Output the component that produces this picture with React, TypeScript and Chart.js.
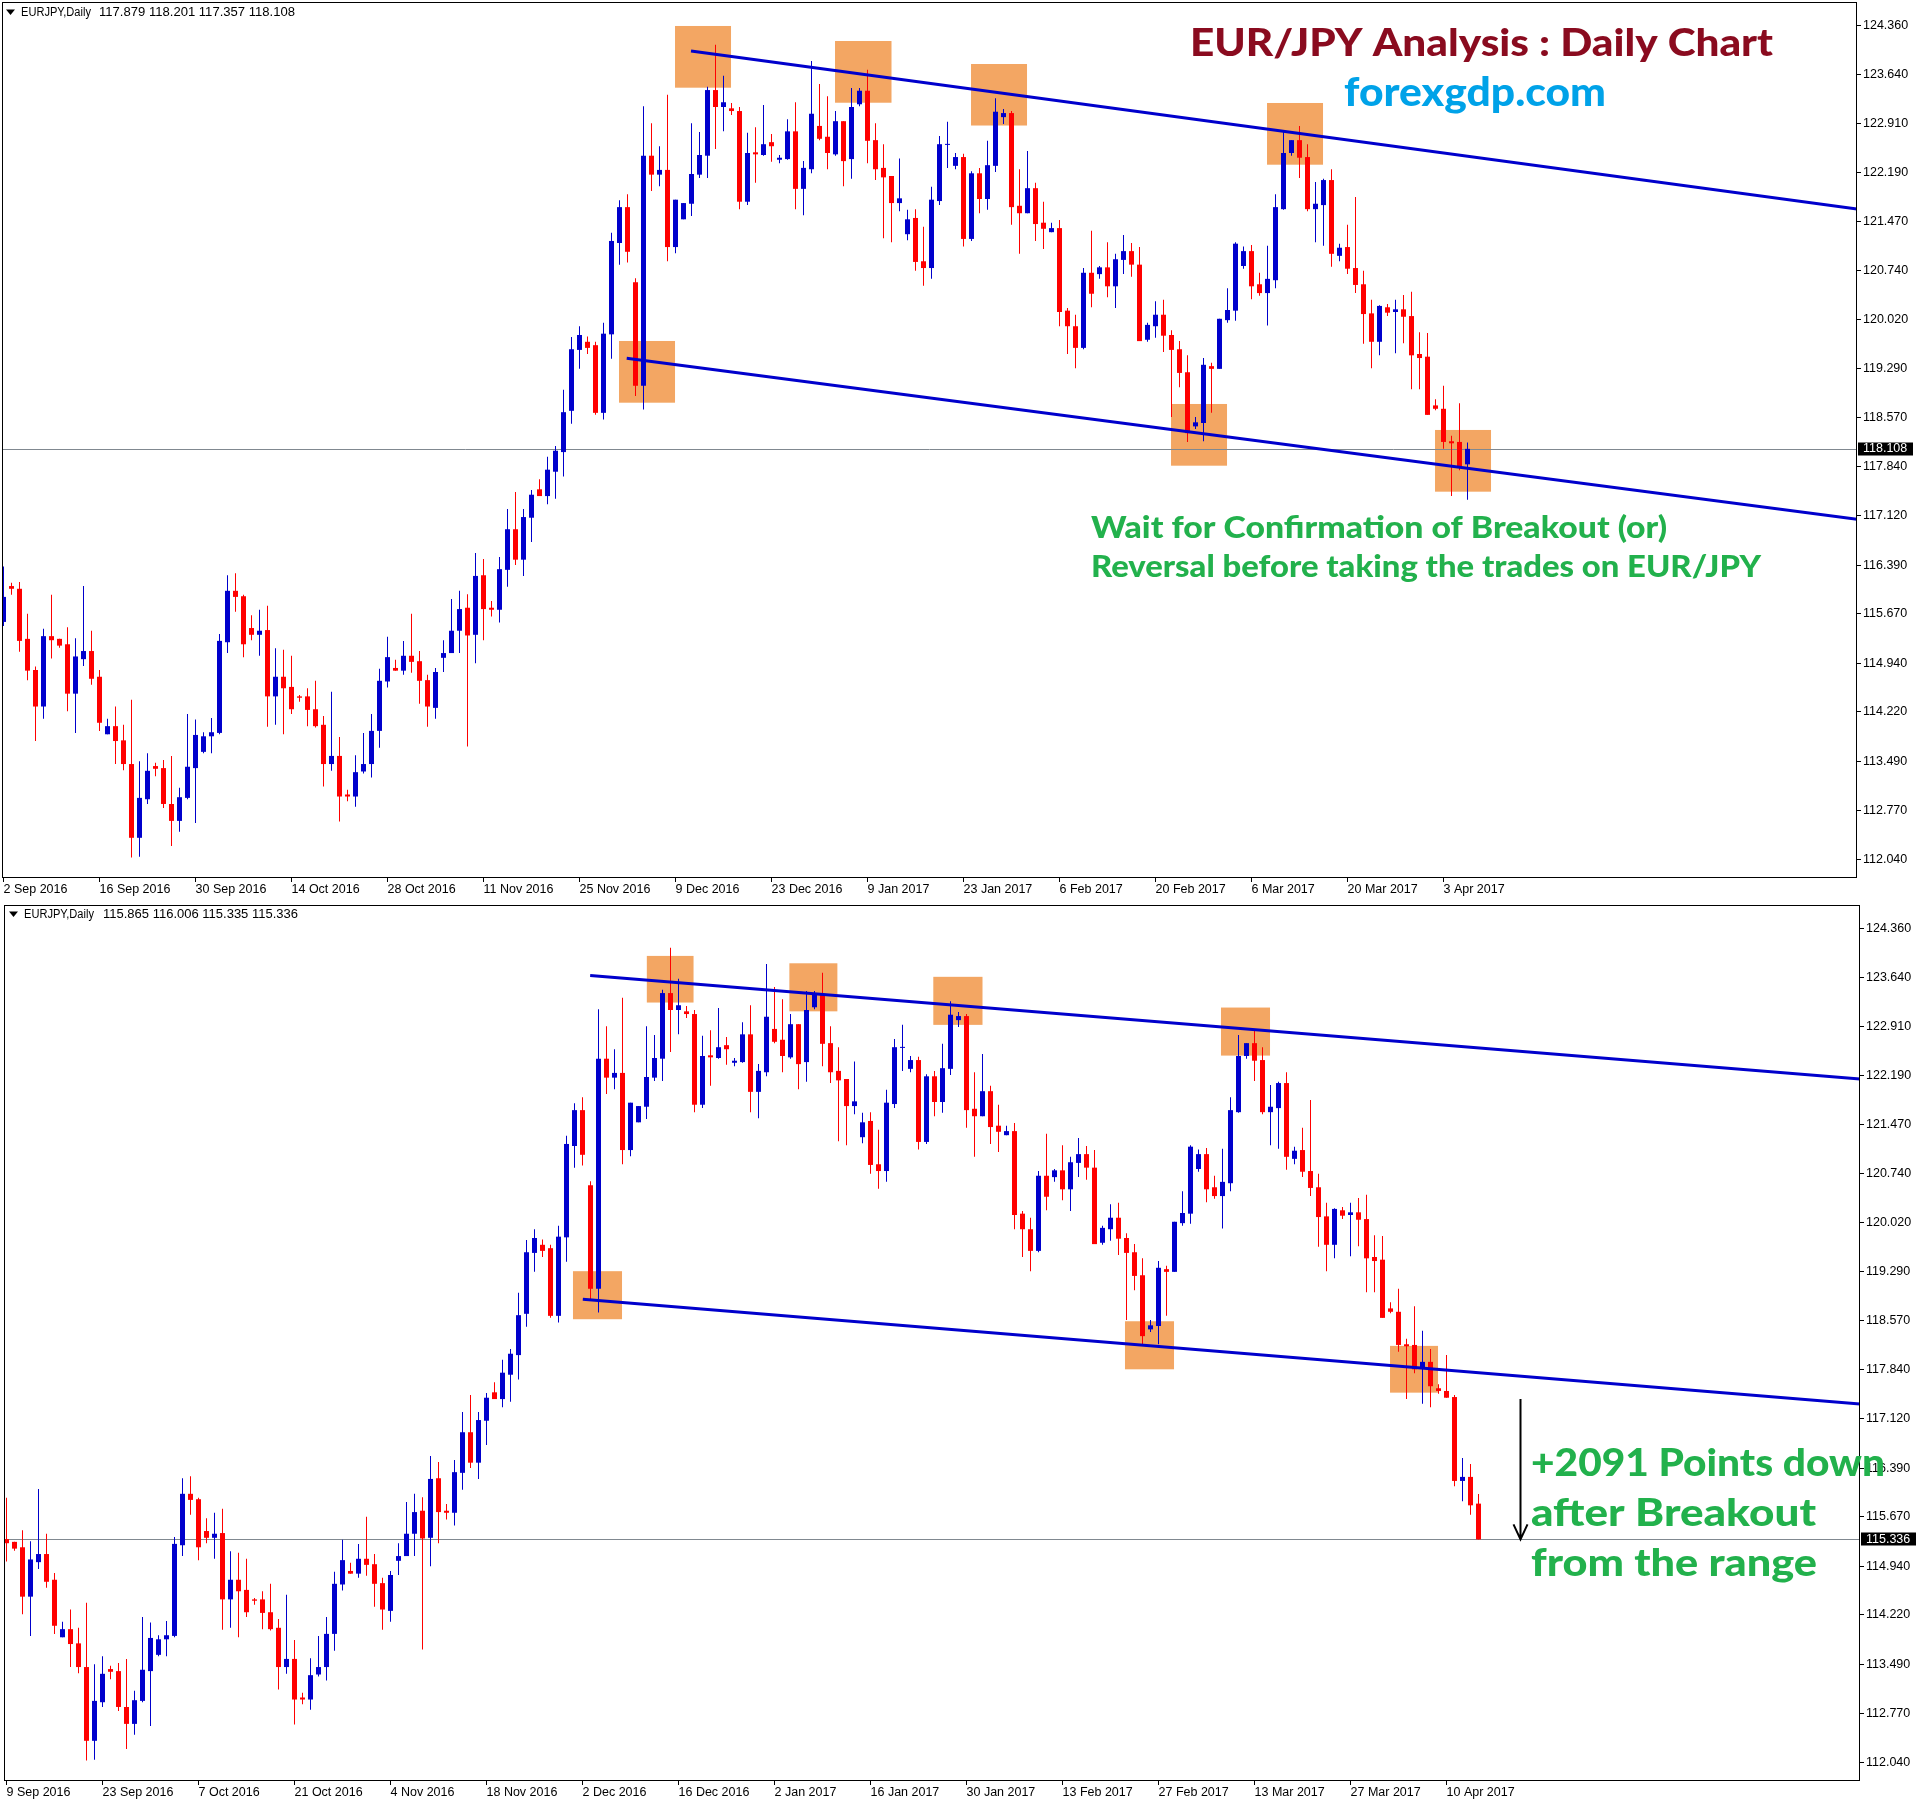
import React, { useEffect, useRef } from "react";
import { Chart, registerables } from "chart.js";

Chart.register(...registerables);

// ---------------- DATA ----------------
const SYMBOL = "EURJPY,Daily";

// daily bars (index 0 = 2 Sep 2016, 6 bars per week)
const opens = [
  115.55, 116.08, 116.04, 115.30, 114.84, 114.30, 115.34, 115.30, 115.22, 114.49,
  115.00, 115.12, 114.74, 113.89, 114.01, 113.80, 113.45, 112.36, 112.93, 113.42,
  113.39, 112.86, 112.61, 112.95, 113.39, 113.63, 113.86, 113.91, 115.25, 116.01,
  115.93, 115.46, 115.36, 115.43, 114.45, 114.74, 114.59, 114.45, 114.45, 114.26,
  114.03, 113.45, 113.57, 113.00, 112.97, 113.34, 113.45, 113.94, 114.67, 114.87,
  114.83, 115.05, 114.97, 114.69, 114.28, 115.02, 115.09, 115.42, 115.76, 115.36,
  116.24, 115.76, 115.73, 116.32, 116.92, 116.47, 117.09, 117.51, 117.41, 117.77,
  118.06, 118.67, 119.57, 119.69, 119.64, 118.64, 119.80, 121.15, 121.68, 120.57,
  119.04, 122.44, 122.16, 122.23, 121.09, 121.50, 121.73, 122.16, 122.44, 123.41,
  123.16, 123.14, 123.10, 121.76, 122.49, 122.45, 122.64, 122.38, 122.39, 122.80,
  121.95, 122.24, 122.88, 122.72, 122.46, 122.95, 122.39, 123.20, 123.40, 122.67,
  122.26, 122.14, 121.74, 121.28, 121.52, 120.88, 120.78, 121.77, 122.60, 122.29,
  122.42, 121.21, 122.18, 121.80, 122.29, 123.01, 123.07, 121.70, 121.59, 121.96,
  121.45, 121.31, 121.37, 120.15, 119.92, 119.60, 120.71, 120.69, 120.79, 120.51,
  120.90, 121.03, 120.83, 119.72, 119.92, 120.09, 119.79, 119.58, 119.24, 118.44,
  118.49, 119.33, 119.29, 120.01, 120.15, 120.81, 121.03, 120.54, 120.41, 120.60,
  121.65, 122.48, 122.67, 122.42, 121.65, 121.71, 122.08, 120.96, 121.09, 120.78,
  120.54, 120.11, 119.69, 120.20, 120.13, 120.17, 120.07, 119.51, 119.47, 118.75,
  118.70, 118.22, 118.21, 117.879, 117.96, 117.57, 117.53, 117.44, 116.20, 116.26,
  115.865,
];
const highs = [
  116.37, 116.13, 116.14, 115.67, 114.89, 115.45, 115.95, 115.30, 115.47, 115.31,
  116.08, 115.42, 114.84, 114.12, 114.30, 114.03, 114.40, 113.49, 113.61, 113.47,
  113.51, 113.57, 113.10, 114.19, 114.11, 113.92, 114.13, 115.37, 116.24, 116.27,
  115.95, 115.65, 115.73, 115.79, 115.16, 115.14, 115.05, 114.47, 114.57, 114.68,
  114.16, 114.52, 113.85, 113.07, 113.58, 113.91, 114.19, 114.86, 115.33, 114.99,
  115.27, 115.67, 115.12, 114.77, 114.87, 115.28, 115.89, 116.01, 115.96, 116.57,
  116.48, 115.86, 116.51, 117.22, 117.47, 117.22, 117.50, 117.66, 117.99, 118.15,
  118.98, 119.76, 119.92, 119.77, 119.69, 119.97, 121.30, 121.78, 121.87, 120.63,
  123.17, 122.92, 122.58, 123.34, 121.79, 121.74, 122.92, 122.79, 123.46, 124.08,
  123.62, 123.22, 123.16, 122.78, 122.86, 123.19, 122.76, 122.45, 122.98, 123.23,
  122.36, 123.84, 123.50, 123.32, 123.10, 122.95, 123.44, 123.44, 123.71, 122.92,
  122.61, 122.14, 122.40, 121.64, 121.65, 121.39, 121.98, 122.73, 122.94, 122.48,
  122.47, 122.21, 122.26, 122.66, 123.29, 123.13, 123.10, 122.24, 122.51, 122.04,
  121.76, 121.45, 121.49, 120.19, 120.09, 120.78, 121.33, 120.81, 121.16, 120.99,
  121.27, 121.15, 121.09, 119.97, 120.29, 120.31, 119.86, 119.70, 119.49, 118.58,
  119.45, 119.38, 120.03, 120.48, 121.16, 121.10, 121.12, 120.71, 121.11, 121.87,
  122.79, 122.67, 122.88, 122.61, 122.05, 122.10, 122.24, 121.14, 121.42, 121.83,
  120.74, 120.31, 120.23, 120.25, 120.31, 120.38, 120.43, 119.83, 119.82, 118.84,
  119.04, 118.30, 118.78, 118.42, 118.15, 117.63, 118.06, 117.47, 116.54, 116.45,
  116.006,
];
const lows = [
  115.49, 115.95, 115.11, 114.69, 113.79, 114.12, 115.01, 115.17, 114.23, 113.91,
  114.90, 114.62, 113.94, 113.89, 113.45, 113.36, 112.07, 112.08, 112.86, 113.27,
  112.80, 112.24, 112.45, 112.93, 112.58, 113.61, 113.61, 113.89, 115.09, 115.70,
  115.03, 115.28, 115.05, 114.00, 114.03, 113.89, 114.19, 114.37, 114.01, 113.99,
  113.12, 113.35, 112.60, 112.90, 112.82, 113.31, 113.25, 113.69, 114.58, 114.83,
  114.77, 114.80, 114.34, 114.00, 114.12, 114.81, 115.09, 115.09, 113.71, 114.94,
  115.28, 115.63, 115.54, 116.07, 116.39, 116.23, 116.73, 117.41, 117.29, 117.37,
  117.70, 118.48, 119.29, 119.51, 118.61, 118.54, 119.44, 120.83, 120.86, 118.89,
  118.69, 121.92, 121.99, 120.88, 121.00, 121.50, 121.55, 122.11, 122.11, 122.54,
  122.80, 123.04, 121.65, 121.71, 122.04, 122.44, 122.35, 122.33, 122.38, 121.65,
  121.56, 122.18, 122.67, 122.24, 122.44, 121.99, 122.10, 123.17, 122.33, 122.08,
  121.22, 121.16, 121.62, 121.19, 120.74, 120.52, 120.62, 121.71, 122.26, 122.24,
  121.10, 121.18, 121.59, 121.64, 122.20, 122.91, 121.42, 120.99, 121.59, 121.18,
  121.06, 121.31, 119.92, 119.51, 119.30, 119.58, 120.20, 120.62, 120.35, 120.19,
  120.69, 120.65, 119.70, 119.69, 119.75, 119.54, 118.58, 119.02, 118.21, 118.40,
  118.22, 118.64, 119.29, 119.97, 120.00, 120.77, 120.32, 120.37, 119.93, 120.48,
  121.64, 122.44, 122.11, 121.62, 121.16, 121.11, 120.80, 120.88, 120.69, 120.41,
  119.66, 119.30, 119.49, 120.07, 119.52, 119.67, 118.99, 118.99, 118.61, 118.68,
  118.11, 117.41, 117.79, 117.34, 117.29, 117.49, 117.43, 116.12, 115.90, 115.70,
  115.335,
];
const closes = [
  115.92, 116.04, 115.27, 114.83, 114.30, 115.34, 115.28, 115.20, 114.49, 115.04,
  115.12, 114.71, 114.06, 114.01, 113.79, 113.45, 112.36, 112.95, 113.35, 113.38,
  112.86, 112.61, 112.96, 113.41, 113.88, 113.86, 113.92, 115.27, 116.01, 115.92,
  115.22, 115.36, 115.42, 114.45, 114.74, 114.57, 114.26, 114.43, 114.25, 114.01,
  113.45, 113.57, 112.97, 112.97, 113.33, 113.45, 113.94, 114.68, 115.03, 114.83,
  115.05, 114.96, 114.68, 114.30, 114.81, 115.09, 115.42, 115.74, 115.35, 116.23,
  115.74, 115.73, 116.33, 116.92, 116.47, 117.10, 117.43, 117.41, 117.80, 118.08,
  118.65, 119.58, 119.79, 119.60, 118.64, 119.81, 121.18, 121.68, 121.02, 119.04,
  122.44, 122.16, 122.23, 121.09, 121.79, 121.74, 122.17, 122.45, 123.41, 123.16,
  123.23, 123.10, 121.76, 122.48, 122.46, 122.61, 122.58, 122.41, 122.80, 121.95,
  122.26, 123.06, 122.69, 122.48, 122.95, 122.36, 123.16, 123.40, 122.66, 122.24,
  122.12, 121.74, 121.81, 121.50, 120.87, 120.78, 121.79, 122.61, 122.61, 122.42,
  121.21, 122.18, 121.80, 122.30, 123.09, 123.07, 121.68, 121.59, 121.96, 121.43,
  121.36, 121.37, 120.13, 119.92, 119.60, 120.71, 120.40, 120.79, 120.51, 120.91,
  121.03, 120.83, 119.70, 119.94, 120.09, 119.78, 119.57, 119.23, 118.34, 118.50,
  119.35, 119.29, 120.03, 120.16, 121.14, 121.03, 120.51, 120.41, 120.62, 121.68,
  122.48, 122.67, 122.41, 121.65, 121.73, 122.08, 120.99, 121.08, 120.77, 120.53,
  120.10, 119.69, 120.22, 120.12, 120.17, 120.06, 119.49, 119.45, 118.61, 118.70,
  118.21, 118.19, 117.85, 117.96, 117.60, 117.53, 117.43, 116.20, 116.26, 115.84,
  115.336,
];

// the upper screenshot was taken while bar 183 was still open
const topLiveBar = { index: 183, open: 117.879, high: 118.201, low: 117.357, close: 118.108 };
const bottomLiveBar = { index: 190, open: 115.865, high: 116.006, low: 115.335, close: 115.336 };

const priceTicks = [
  124.36, 123.64, 122.91, 122.19, 121.47, 120.74, 120.02, 119.29, 118.57,
  117.84, 117.12, 116.39, 115.67, 114.94, 114.22, 113.49, 112.77, 112.04,
];

const topDateLabels = [
  "2 Sep 2016", "16 Sep 2016", "30 Sep 2016", "14 Oct 2016", "28 Oct 2016", "11 Nov 2016",
  "25 Nov 2016", "9 Dec 2016", "23 Dec 2016", "9 Jan 2017", "23 Jan 2017", "6 Feb 2017",
  "20 Feb 2017", "6 Mar 2017", "20 Mar 2017", "3 Apr 2017",
];
const bottomDateLabels = [
  "9 Sep 2016", "23 Sep 2016", "7 Oct 2016", "21 Oct 2016", "4 Nov 2016", "18 Nov 2016",
  "2 Dec 2016", "16 Dec 2016", "2 Jan 2017", "16 Jan 2017", "30 Jan 2017", "13 Feb 2017",
  "27 Feb 2017", "13 Mar 2017", "27 Mar 2017", "10 Apr 2017",
];
const DATE_STEP = 12;

// highlight boxes: [fromBar, toBar, highPrice, lowPrice]
const topBoxes = [
  [83.94, 90.94, 124.357, 123.445],
  [103.94, 111.0, 124.135, 123.223],
  [120.94, 127.94, 123.795, 122.886],
  [157.94, 164.94, 123.219, 122.307],
  [76.94, 83.94, 119.702, 118.79],
  [145.94, 152.94, 118.771, 117.859],
  [178.94, 185.94, 118.387, 117.475],
];
const bottomBoxes = [
  [86.04, 91.88, 123.959, 123.27],
  [103.86, 109.86, 123.85, 123.14],
  [121.85, 128.0, 123.65, 122.94],
  [157.81, 163.94, 123.196, 122.486],
  [76.81, 82.94, 119.3, 118.59],
  [145.81, 151.94, 118.56, 117.85],
  [178.94, 184.94, 118.196, 117.505],
];

// trend lines: [bar1, price1, bar2, price2]
const topLines = [
  [85.94, 123.987, 231.6875, 121.652],
  [77.9, 119.446, 231.6875, 117.067],
];
const bottomLines = [
  [78.96, 123.669, 237.6875, 122.14],
  [78.04, 118.884, 237.6875, 117.338],
];

const bottomArrow = { bar: 195.19, fromPrice: 117.41, toPrice: 115.336 };

// ---------------- STYLE ----------------
const BULL = "#0000CC";
const BEAR = "#FF0000";
const LINE_BLUE = "#0000CC";
const BOX_COLOR = "#F3A663";
const PRICE_LINE = "#808890";
const TICK_FONT = { family: '"Liberation Sans", Arial, sans-serif', size: 12.5 };
const TICK_FONT_CSS = '12.5px "Liberation Sans", Arial, sans-serif';
const ANNOT_FAMILY = '"Lato Black", Lato, "Open Sans", "DejaVu Sans", sans-serif';
const Y_MAX = 124.7114;
const Y_MIN = 111.766;

const topPanel = {
  top: 0,
  height: 903,
  padLeft: 2,
  plotRight: 1857,
  xMin: -0.1875,
  xMax: 231.6875,
  lastIndex: 183,
  live: topLiveBar,
  dateLabels: topDateLabels,
  dateStart: 0,
  boxes: topBoxes,
  lines: topLines,
  header: { tri: 6, sym: 21, symW: 70, nums: 99, numsW: 196, y: 12.5 },
  arrow: null,
  annotations: [
    { text: "EUR/JPY Analysis : Daily Chart", x: 1190, y: 56, w: 583, size: 37, color: "#8A0B1F" },
    { text: "forexgdp.com", x: 1344, y: 106, w: 262, size: 40, color: "#00A2E8" },
    { text: "Wait for Confirmation of Breakout (or)", x: 1091, y: 538, w: 576, size: 30, color: "#22B14C" },
    { text: "Reversal before taking the trades on EUR/JPY", x: 1091, y: 577, w: 670, size: 30, color: "#22B14C" },
  ],
};
const bottomPanel = {
  top: 903,
  height: 909,
  padLeft: 4,
  plotRight: 1860,
  xMin: 5.6875,
  xMax: 237.6875,
  lastIndex: 190,
  live: bottomLiveBar,
  dateLabels: bottomDateLabels,
  dateStart: 6,
  boxes: bottomBoxes,
  lines: bottomLines,
  header: { tri: 9, sym: 24, symW: 70, nums: 103, numsW: 195, y: 11.5 },
  arrow: bottomArrow,
  annotations: [
    { text: "+2091 Points down", x: 1531, y: 573, w: 354, size: 38, color: "#22B14C" },
    { text: "after Breakout", x: 1531, y: 623, w: 285, size: 38, color: "#22B14C" },
    { text: "from the range", x: 1531, y: 673, w: 286, size: 38, color: "#22B14C" },
  ],
};

function fmt(v: number) {
  return Number(v).toFixed(3);
}

function fitText(ctx: CanvasRenderingContext2D, text: string, x: number, y: number, width: number) {
  const w = ctx.measureText(text).width;
  ctx.save();
  ctx.translate(x, y);
  ctx.scale(width / w, 1);
  ctx.fillText(text, 0, 0);
  ctx.restore();
}

function makeDecorPlugin(p: any) {
  return {
    id: "mt4decor",
    beforeDatasetsDraw(chart: any) {
      const { ctx, chartArea: a } = chart;
      const x = chart.scales.x;
      const y = chart.scales.y;
      ctx.save();
      ctx.beginPath();
      ctx.rect(a.left, a.top, a.right - a.left, a.bottom - a.top);
      ctx.clip();
      ctx.fillStyle = BOX_COLOR;
      for (const b of p.boxes) {
        const x1 = x.getPixelForValue(b[0]);
        const x2 = x.getPixelForValue(b[1]);
        const y1 = y.getPixelForValue(b[2]);
        const y2 = y.getPixelForValue(b[3]);
        ctx.fillRect(x1, y1, x2 - x1, y2 - y1);
      }
      const py = Math.round(y.getPixelForValue(p.live.close)) + 0.5;
      ctx.strokeStyle = PRICE_LINE;
      ctx.lineWidth = 1;
      ctx.beginPath();
      ctx.moveTo(a.left, py);
      ctx.lineTo(a.right, py);
      ctx.stroke();
      ctx.restore();
    },
    afterDraw(chart: any) {
      const { ctx, chartArea: a } = chart;
      const x = chart.scales.x;
      const y = chart.scales.y;
      ctx.save();
      // frame
      ctx.strokeStyle = "#000";
      ctx.lineWidth = 1;
      ctx.strokeRect(a.left + 0.5, a.top + 0.5, a.right - a.left - 1, a.bottom - a.top - 1);

      // current price tag
      const py = y.getPixelForValue(p.live.close);
      ctx.fillStyle = "#000";
      ctx.fillRect(a.right + 1, Math.round(py) - 6.5, 55, 13);
      ctx.fillStyle = "#fff";
      ctx.font = TICK_FONT_CSS;
      ctx.textBaseline = "middle";
      ctx.textAlign = "left";
      ctx.fillText(fmt(p.live.close), a.right + 6, py);

      // header
      const h = p.header;
      ctx.fillStyle = "#000";
      ctx.beginPath();
      ctx.moveTo(h.tri, h.y - 3);
      ctx.lineTo(h.tri + 9, h.y - 3);
      ctx.lineTo(h.tri + 4.5, h.y + 2.5);
      ctx.closePath();
      ctx.fill();
      ctx.font = TICK_FONT_CSS;
      ctx.textBaseline = "middle";
      fitText(ctx, SYMBOL, h.sym, h.y, h.symW);
      const lv = p.live;
      fitText(ctx, [lv.open, lv.high, lv.low, lv.close].map(fmt).join(" "), h.nums, h.y, h.numsW);

      // arrow
      if (p.arrow) {
        const ax = Math.round(x.getPixelForValue(p.arrow.bar)) + 0.5;
        const y1 = y.getPixelForValue(p.arrow.fromPrice);
        const y2 = y.getPixelForValue(p.arrow.toPrice);
        ctx.strokeStyle = "#000";
        ctx.lineWidth = 2;
        ctx.beginPath();
        ctx.moveTo(ax, y1);
        ctx.lineTo(ax, y2);
        ctx.moveTo(ax - 7, y2 - 15);
        ctx.lineTo(ax, y2);
        ctx.lineTo(ax + 7, y2 - 15);
        ctx.stroke();
      }

      // annotations
      ctx.textBaseline = "alphabetic";
      ctx.textAlign = "left";
      for (const t of p.annotations) {
        ctx.font = `900 ${t.size}px ${ANNOT_FAMILY}`;
        ctx.fillStyle = t.color;
        fitText(ctx, t.text, t.x, t.y, t.w);
      }
      ctx.restore();
    },
  };
}

function buildChart(canvas: HTMLCanvasElement, p: any) {
  const wick: any[] = [];
  const body: any[] = [];
  const colors: string[] = [];
  for (let i = 0; i <= p.lastIndex; i++) {
    let o = opens[i], hi = highs[i], lo = lows[i], c = closes[i];
    if (i === p.live.index) {
      o = p.live.open; hi = p.live.high; lo = p.live.low; c = p.live.close;
    }
    wick.push({ x: i, y: [lo, hi] });
    body.push({ x: i, y: [o, c] });
    colors.push(c >= o ? BULL : BEAR);
  }
  const lineSets = p.lines.map((l: number[]) => ({
    type: "line",
    data: [{ x: l[0], y: l[1] }, { x: l[2], y: l[3] }],
    borderColor: LINE_BLUE,
    borderWidth: 3,
    pointRadius: 0,
    fill: false,
    tension: 0,
    order: 0,
    clip: 0,
  }));
  const gridOpts = {
    display: true,
    drawOnChartArea: false,
    drawTicks: true,
    tickLength: 4,
    tickWidth: 1,
    color: "#000",
    offset: false,
  };
  return new Chart(canvas, {
    type: "bar",
    data: {
      datasets: [
        ...lineSets,
        {
          type: "bar",
          data: body,
          backgroundColor: colors,
          borderWidth: 0,
          grouped: false,
          barThickness: 5,
          maxBarThickness: 5,
          minBarLength: 1,
          inflateAmount: 0,
          order: 1,
          clip: 0,
        },
        {
          type: "bar",
          data: wick,
          backgroundColor: colors,
          borderWidth: 0,
          grouped: false,
          barThickness: 1,
          maxBarThickness: 1,
          minBarLength: 1,
          inflateAmount: 0,
          order: 2,
          clip: 0,
        },
      ],
    } as any,
    options: {
      responsive: false,
      animation: false,
      devicePixelRatio: 1,
      events: [],
      layout: { padding: { left: p.padLeft, top: 2, right: 0, bottom: 0 } },
      plugins: { legend: { display: false }, tooltip: { enabled: false } },
      scales: {
        x: {
          type: "linear",
          position: "bottom",
          min: p.xMin,
          max: p.xMax,
          offset: false,
          grid: gridOpts,
          border: { display: false },
          ticks: {
            autoSkip: false,
            maxRotation: 0,
            minRotation: 0,
            align: "start",
            padding: 0,
            color: "#000",
            font: TICK_FONT,
            callback: (v: number) => {
              const k = Math.round((Number(v) - p.dateStart) / DATE_STEP);
              return p.dateLabels[k] ?? "";
            },
          },
          afterBuildTicks: (s: any) => {
            s.ticks = p.dateLabels.map((_: string, k: number) => ({ value: p.dateStart + k * DATE_STEP }));
          },
          afterFit: (s: any) => {
            s.height = p.height - 878;
            s.paddingLeft = 0;
            s.paddingRight = 0;
          },
        },
        y: {
          type: "linear",
          position: "right",
          min: Y_MIN,
          max: Y_MAX,
          grid: gridOpts,
          border: { display: false },
          ticks: {
            padding: 2,
            color: "#000",
            font: TICK_FONT,
            callback: (v: number) => fmt(v),
          },
          afterBuildTicks: (s: any) => {
            s.ticks = priceTicks.map((v) => ({ value: v }));
          },
          afterFit: (s: any) => {
            s.width = 1928 - p.plotRight;
            s.paddingTop = 0;
            s.paddingBottom = 0;
          },
        },
      },
    } as any,
    plugins: [makeDecorPlugin(p)],
  });
}

function Panel({ cfg }: { cfg: any }) {
  const ref = useRef<HTMLCanvasElement | null>(null);
  useEffect(() => {
    if (!ref.current) return;
    const chart = buildChart(ref.current, cfg);
    return () => chart.destroy();
  }, [cfg]);
  return (
    <div style={{ position: "absolute", left: 0, top: cfg.top, width: 1928, height: cfg.height }}>
      <canvas
        ref={ref}
        width={1928}
        height={cfg.height}
        style={{ display: "block", width: 1928, height: cfg.height }}
      />
    </div>
  );
}

export default function App() {
  return (
    <div
      style={{
        position: "absolute",
        left: 0,
        top: 0,
        width: 1928,
        height: 1812,
        background: "#ffffff",
        overflow: "hidden",
      }}
    >
      <Panel cfg={topPanel} />
      <Panel cfg={bottomPanel} />
    </div>
  );
}
